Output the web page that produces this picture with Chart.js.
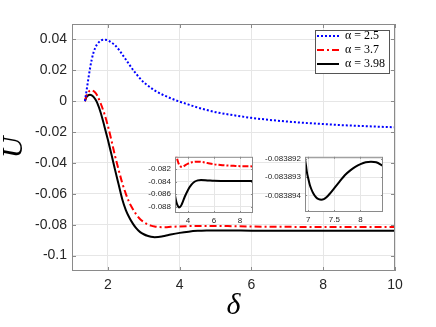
<!DOCTYPE html>
<html>
<head>
<meta charset="utf-8">
<script src="https://cdn.jsdelivr.net/npm/chart.js@4.4.1/dist/chart.umd.min.js"></script>
<style>
  body { margin: 0; background: #fff; }
  #lienzo { position: relative; width: 436px; height: 327px; }
  canvas { position: absolute; }
  #principal { left: 0; top: 0; }
  #recuadro1 { left: 140px; top: 148px; }
  #recuadro2 { left: 262px; top: 148px; }
</style>
</head>
<body>
<div id="lienzo">
  <canvas id="principal" width="436" height="327"></canvas>
  <canvas id="recuadro1" width="118" height="80"></canvas>
  <canvas id="recuadro2" width="126" height="80"></canvas>
</div>
<script>
// Valores
const delta = [1.36, 1.40, 1.45, 1.50, 1.55, 1.60, 1.65, 1.70, 1.80, 1.90,
  2.00, 2.10, 2.20, 2.30, 2.40, 2.50, 2.60, 2.70, 2.80, 2.90,
  3.00, 3.10, 3.20, 3.30, 3.40, 3.50, 3.60, 3.75, 4.00, 4.25,
  4.50, 4.75, 5.00, 5.50, 6.00, 6.50, 7.00, 7.50, 8.00, 8.50,
  9.00, 9.50, 10.00];
const uAlfa25 = [0.0, 0.006, 0.0136, 0.021, 0.027, 0.0315, 0.0347, 0.0368, 0.0392, 0.0398,
  0.0394, 0.0380, 0.0362, 0.0336, 0.0303, 0.0270, 0.0236, 0.0203, 0.0174, 0.0146,
  0.0122, 0.0103, 0.0086, 0.0070, 0.0057, 0.0045, 0.0034, 0.0019, -0.0003, -0.0022,
  -0.0041, -0.0057, -0.0071, -0.0091, -0.0108, -0.0121, -0.0132, -0.0141, -0.0148, -0.0155,
  -0.0160, -0.0165, -0.0169];
const uAlfa37 = [0.0, 0.0035, 0.0058, 0.0069, 0.0071, 0.0066, 0.0055, 0.0038, -0.0015, -0.0080,
  -0.0160, -0.0255, -0.0355, -0.0445, -0.0530, -0.0600, -0.0658, -0.0700, -0.0737, -0.0765,
  -0.0783, -0.0797, -0.0806, -0.0812, -0.0815, -0.0816, -0.0816, -0.0814, -0.0811, -0.0809,
  -0.0808, -0.08078, -0.0808, -0.0810, -0.0812, -0.08132, -0.0814, -0.08145, -0.0815, -0.08152,
  -0.08154, -0.08155, -0.08156];
const uAlfa398 = [0.0, 0.0025, 0.0038, 0.0042, 0.0038, 0.0028, 0.0012, -0.0010, -0.0075, -0.0160,
  -0.0250, -0.0345, -0.0445, -0.0540, -0.0635, -0.0705, -0.0755, -0.0795, -0.0826, -0.0848,
  -0.0862, -0.0872, -0.0878, -0.0881, -0.0880, -0.0877, -0.0872, -0.0864, -0.0853, -0.0845,
  -0.0840, -0.08377, -0.08372, -0.08378, -0.08385, -0.08388, -0.08389, -0.08389, -0.08389, -0.08389,
  -0.08389, -0.08389, -0.08389];

// Detalle de la cola de alfa = 3.98 (segundo recuadro)
const deltaDetalle = [6.94, 6.96, 6.98, 7.00, 7.03, 7.06, 7.10, 7.15, 7.20, 7.25,
  7.30, 7.35, 7.40, 7.50, 7.60, 7.70, 7.80, 7.90, 8.00, 8.10,
  8.20, 8.30, 8.43];
const uAlfa398Detalle = [-0.0838920, -0.0838924, -0.0838928, -0.08389305, -0.0838934, -0.08389365,
  -0.0838939, -0.0838941, -0.0838942, -0.08389423, -0.0838942, -0.0838941, -0.08389395,
  -0.0838936, -0.08389325, -0.0838929, -0.08389265, -0.08389245, -0.0838923, -0.0838922,
  -0.08389217, -0.0838922, -0.0838924];

const etiquetas = ['α = 2.5', 'α = 3.7', 'α = 3.98'];
const ticksX = [2, 4, 6, 8, 10];
const ticksY = [-0.1, -0.08, -0.06, -0.04, -0.02, 0, 0.02, 0.04];
const ticksXRecuadro1 = [4, 6, 8];
const ticksYRecuadro1 = [-0.088, -0.086, -0.084, -0.082];
const ticksXRecuadro2 = [7, 7.5, 8];
const ticksYRecuadro2 = [-0.083894, -0.083893, -0.083892];

const COLOR_TEXTO = '#262626';
const COLOR_MARCO = '#8a8a8a';
const COLOR_REJILLA = '#e6e6e6';

function puntos(xs, ys) {
  return xs.map((x, i) => ({ x: x, y: ys[i] }));
}

function serie(etiqueta, xs, ys, color, ancho, trazo) {
  return {
    label: etiqueta,
    data: puntos(xs, ys),
    borderColor: color,
    backgroundColor: color,
    borderWidth: ancho,
    borderDash: trazo,
    pointRadius: 0,
    fill: false,
    cubicInterpolationMode: 'monotone'
  };
}

function eje(min, max, ticks, formato, fuente, relleno, medida) {
  return {
    type: 'linear',
    min: min,
    max: max,
    afterBuildTicks: s => { s.ticks = ticks.map(v => ({ value: v })); },
    afterFit: s => {
      if (s.isHorizontal()) s.height = medida; else s.width = medida;
    },
    grid: { color: COLOR_REJILLA, drawTicks: false },
    border: { display: false },
    ticks: {
      callback: formato,
      font: { family: 'Liberation Sans', size: fuente },
      color: COLOR_TEXTO,
      padding: relleno,
      maxRotation: 0,
      autoSkip: false
    }
  };
}

// Marco completo con marcas hacia dentro, como en MATLAB
const marcoPlugin = {
  id: 'marco',
  afterDraw(chart, args, opts) {
    const { ctx, chartArea: a, scales: { x, y } } = chart;
    const t = opts.largo;
    ctx.save();
    ctx.strokeStyle = COLOR_MARCO;
    ctx.lineWidth = 1;
    ctx.strokeRect(a.left + 0.5, a.top + 0.5, a.width - 1, a.height - 1);
    ctx.beginPath();
    x.ticks.forEach(tk => {
      const px = Math.round(x.getPixelForValue(tk.value)) + 0.5;
      ctx.moveTo(px, a.bottom); ctx.lineTo(px, a.bottom - t);
      ctx.moveTo(px, a.top); ctx.lineTo(px, a.top + t);
    });
    y.ticks.forEach(tk => {
      const py = Math.round(y.getPixelForValue(tk.value)) + 0.5;
      ctx.moveTo(a.left, py); ctx.lineTo(a.left + t, py);
      ctx.moveTo(a.right, py); ctx.lineTo(a.right - t, py);
    });
    ctx.stroke();
    ctx.restore();
  }
};

// Fondo blanco solo dentro del area de los recuadros
const fondoPlugin = {
  id: 'fondo',
  beforeDraw(chart) {
    const { ctx, chartArea: a } = chart;
    ctx.save();
    ctx.fillStyle = '#fff';
    ctx.fillRect(a.left, a.top, a.width, a.height);
    ctx.restore();
  }
};

// Leyenda en la esquina superior derecha, con caja blanca encima de los datos
const leyendaPlugin = {
  id: 'cajaLeyenda',
  afterLayout(chart) {
    const lg = chart.legend;
    const a = chart.chartArea;
    const w = 74, h = 43;
    const left = a.right - 6 - w;
    const top = a.top + 6;
    lg.left = left; lg.right = left + w;
    lg.top = top - 2; lg.bottom = top + h + 10;
    lg.width = w; lg.height = h + 12;
    chart.$caja = { left, top, w, h };
  },
  afterDatasetsDraw(chart) {
    const c = chart.$caja;
    const ctx = chart.ctx;
    ctx.save();
    ctx.fillStyle = '#fff';
    ctx.fillRect(c.left, c.top, c.w, c.h);
    ctx.strokeStyle = '#555';
    ctx.lineWidth = 1;
    ctx.strokeRect(c.left + 0.5, c.top + 0.5, c.w, c.h);
    ctx.restore();
    chart.legend.draw();
  }
};

const formatoX = v => String(v);
const formatoY = v => String(Math.round(v * 100) / 100);

new Chart(document.getElementById('principal'), {
  type: 'line',
  data: {
    datasets: [
      serie(etiquetas[0], delta, uAlfa25, '#0000ff', 2, [2, 2]),
      serie(etiquetas[1], delta, uAlfa37, '#ff0000', 2, [7, 3, 2, 3]),
      serie(etiquetas[2], delta, uAlfa398, '#000000', 2, [])
    ]
  },
  options: {
    responsive: false,
    animation: false,
    devicePixelRatio: 1,
    layout: { padding: { top: 24, right: 41, left: 0, bottom: 0 } },
    scales: {
      x: Object.assign(eje(1, 10, ticksX, formatoX, 14, 6, 56), {
        title: {
          display: true, text: 'δ', color: '#000',
          font: { family: 'Liberation Serif', style: 'italic', size: 30 },
          padding: { top: 0, bottom: 3 }
        }
      }),
      y: Object.assign(eje(-0.11, 0.05, ticksY, formatoY, 14, 5, 72), {
        title: {
          display: true, text: 'U', color: '#000',
          font: { family: 'Liberation Serif', style: 'italic', size: 30, lineHeight: 0.95 },
          padding: { top: 0, bottom: 0 }
        }
      })
    },
    plugins: {
      legend: {
        display: true,
        position: 'chartArea',
        align: 'start',
        labels: {
          usePointStyle: true,
          pointStyleWidth: 22,
          padding: 2,
          color: '#000',
          font: { family: 'Liberation Serif', size: 12 },
          generateLabels: chart => chart.data.datasets.map((ds, i) => ({
            text: ds.label,
            fillStyle: ds.borderColor,
            strokeStyle: ds.borderColor,
            lineWidth: ds.borderWidth,
            lineDash: ds.borderDash,
            pointStyle: 'line',
            fontColor: '#000',
            hidden: false,
            datasetIndex: i
          }))
        }
      },
      tooltip: { enabled: false },
      marco: { largo: 4 }
    }
  },
  plugins: [marcoPlugin, leyendaPlugin]
});

// Recuadro 1: cola de alfa = 3.7 y alfa = 3.98
new Chart(document.getElementById('recuadro1'), {
  type: 'line',
  data: {
    datasets: [
      serie(etiquetas[1], delta, uAlfa37, '#ff0000', 2, [6, 2, 2, 2]),
      serie(etiquetas[2], delta, uAlfa398, '#000000', 2, [])
    ]
  },
  options: {
    responsive: false,
    animation: false,
    devicePixelRatio: 1,
    layout: { padding: { top: 5, right: 5, left: 0, bottom: 0 } },
    scales: {
      x: eje(3, 9, ticksXRecuadro1, formatoX, 8, 3, 15),
      y: eje(-0.089, -0.080, ticksYRecuadro1, v => v.toFixed(3), 8, 4, 35)
    },
    plugins: {
      legend: { display: false },
      tooltip: { enabled: false },
      marco: { largo: 2 }
    }
  },
  plugins: [fondoPlugin, marcoPlugin]
});

// Recuadro 2: detalle fino de alfa = 3.98
new Chart(document.getElementById('recuadro2'), {
  type: 'line',
  data: {
    datasets: [
      serie(etiquetas[2], deltaDetalle, uAlfa398Detalle, '#000000', 2, [])
    ]
  },
  options: {
    responsive: false,
    animation: false,
    devicePixelRatio: 1,
    layout: { padding: { top: 5, right: 5, left: 0, bottom: 0 } },
    scales: {
      x: eje(6.94, 8.43, ticksXRecuadro2, formatoX, 8, 3, 16),
      y: eje(-0.0838949, -0.0838919, ticksYRecuadro2, v => v.toFixed(6), 8, 4, 43)
    },
    plugins: {
      legend: { display: false },
      tooltip: { enabled: false },
      marco: { largo: 2 }
    }
  },
  plugins: [fondoPlugin, marcoPlugin]
});
</script>
</body>
</html>
